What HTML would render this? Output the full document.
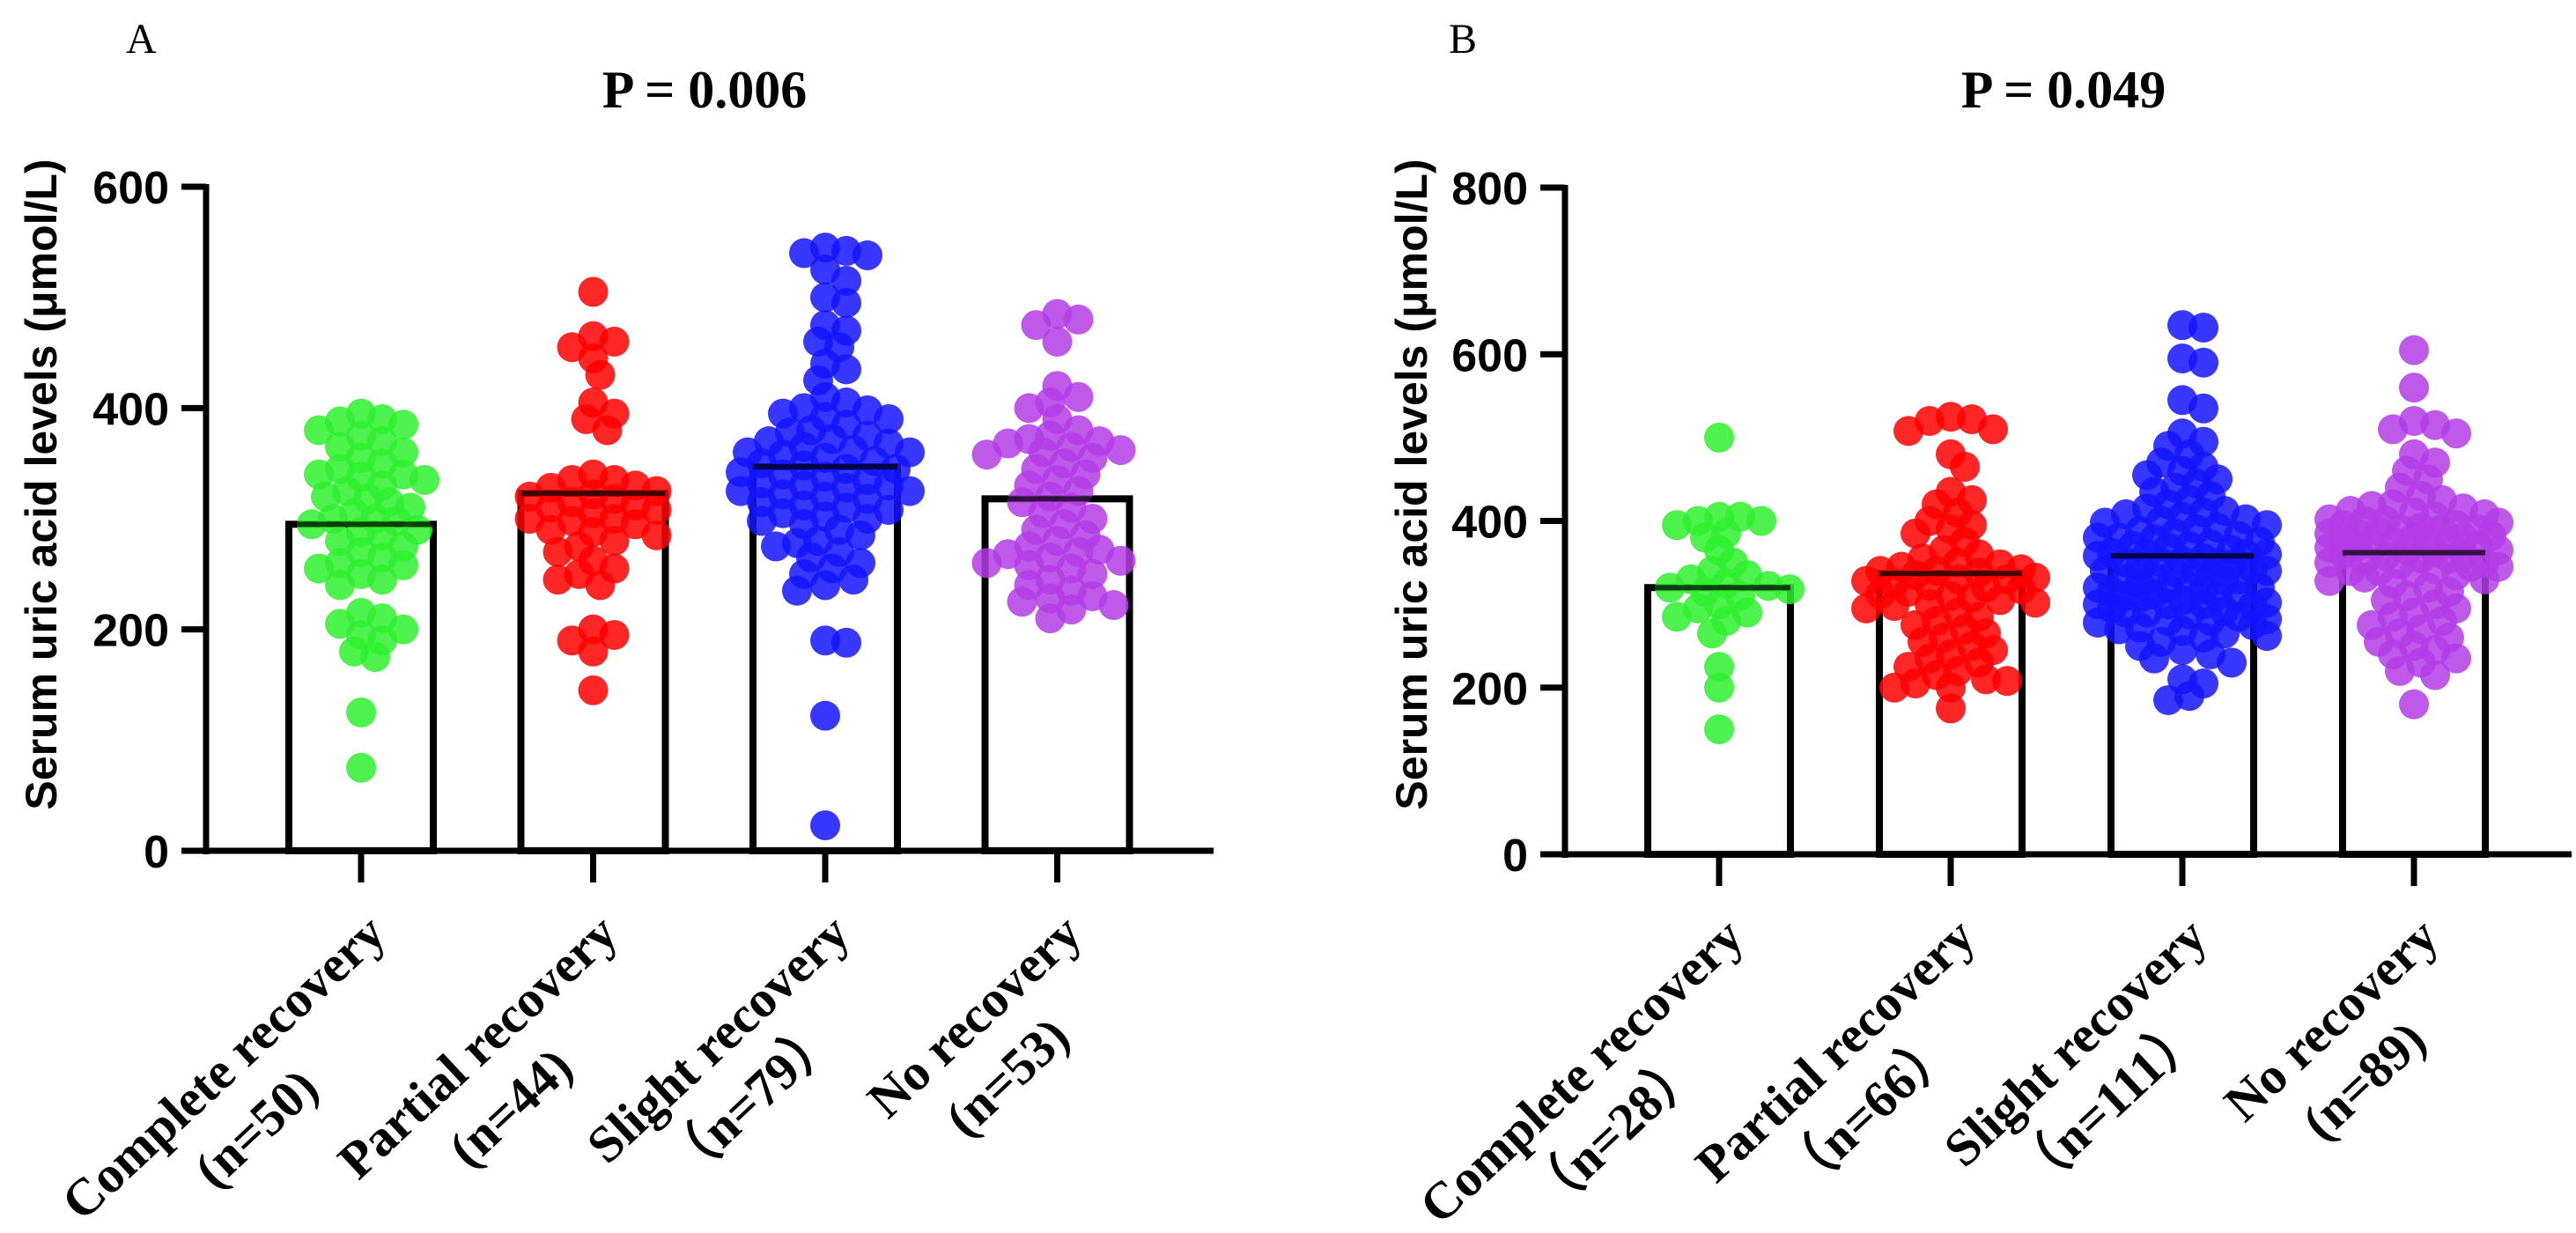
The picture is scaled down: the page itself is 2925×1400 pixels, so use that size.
<!DOCTYPE html>
<html><head><meta charset="utf-8"><style>
body{margin:0;background:#fff;overflow:hidden}svg{display:block}
.ax{font-family:"Liberation Sans",sans-serif;font-weight:bold}
.sf{font-family:"Liberation Serif",serif;font-weight:bold}
</style></head><body>
<svg id="chart" width="2925" height="1400" viewBox="0 0 2925 1400" xmlns="http://www.w3.org/2000/svg"></svg>
<script>
const categories = ["Complete recovery","Partial recovery","Slight recovery","No recovery"];
const nLabelsA = ["(n=50)","(n=44)","（n=79）","(n=53)"];
const nLabelsB = ["（n=28）","（n=66）","（n=111）","(n=89)"];
const meansA = [295,323,347,318];
const meansB = [320,337,358,362];
const ticksA = [0,200,400,600];
const ticksB = [0,200,400,600,800];
const colors = ["#2ef02e","#ff0000","#1414ff","#b43ce6"];
const groupA1 = [395,390,388,385,380,375,370,365,360,355,350,345,340,340,338,335,330,325,320,318,315,310,305,300,300,298,295,290,288,285,280,275,270,265,260,258,255,250,245,240,215,210,205,200,195,190,180,175,125,75];
const groupA2 = [505,465,460,455,445,430,405,395,390,380,340,335,335,330,328,325,322,320,318,315,312,310,308,305,300,300,298,295,290,288,285,280,275,270,262,255,250,245,240,200,195,190,180,145];
const groupA3 = [545,542,540,538,525,515,500,495,475,470,460,455,440,435,425,410,405,400,398,395,392,390,385,380,378,375,372,370,368,365,362,360,360,358,355,352,350,348,345,345,342,340,338,335,332,330,330,328,325,325,322,320,318,315,312,310,308,305,302,300,298,295,290,285,280,278,275,270,265,260,255,250,245,240,235,190,188,122,23];
const groupA4 = [485,480,475,460,420,410,405,400,390,380,375,372,370,368,365,362,360,358,355,350,345,340,335,330,325,320,315,310,305,300,295,290,285,280,275,272,270,268,265,262,260,258,255,250,245,240,235,230,228,225,222,218,210];
const groupB1 = [500,405,405,400,400,395,385,380,365,350,340,335,330,325,322,320,318,315,310,300,295,290,285,280,265,225,200,150];
const groupB2 = [525,522,520,510,508,480,465,435,425,420,410,400,395,390,385,375,365,360,355,350,348,345,342,340,340,338,335,332,330,330,328,325,322,320,318,315,312,310,308,305,302,300,298,295,290,285,280,275,270,265,260,255,250,245,240,235,230,225,220,215,210,208,205,200,200,175];
const groupB3 = [635,632,595,590,545,535,505,495,490,480,470,465,460,455,450,445,440,435,430,425,420,415,412,410,408,405,402,400,398,395,392,390,388,385,382,380,380,378,375,372,370,370,368,365,362,360,360,358,355,352,350,350,348,345,342,340,340,338,335,332,330,330,328,325,322,320,320,318,315,312,310,310,308,305,302,300,300,300,298,295,292,290,290,288,285,282,280,280,278,275,272,270,268,265,262,260,255,250,245,240,235,230,210,205,190,185,340,350,360,320,310];
const groupB4 = [605,560,520,515,510,505,480,470,460,450,440,430,425,420,418,415,412,410,408,405,402,400,400,398,395,395,392,390,390,388,385,385,382,380,380,378,375,375,372,370,370,368,365,365,362,360,360,358,355,355,352,350,350,348,345,345,342,340,340,338,335,332,330,328,325,320,315,310,305,300,295,290,285,280,275,270,265,260,255,250,245,240,235,230,220,215,180,380,390];

const NS="http://www.w3.org/2000/svg";
const svg=document.getElementById('chart');
function mk(tag,attrs,parent){const e=document.createElementNS(NS,tag);for(const k in attrs)e.setAttribute(k,attrs[k]);(parent||svg).appendChild(e);return e;}

function panel(cfg){
  const g=mk('g',{});
  
  
  const yScale=v=>cfg.y0-(v/cfg.ymax)*(cfg.y0-cfg.yTop);
  const xCenter=i=>cfg.x0+i*cfg.step;
  const L=mk('text',{x:cfg.letterX,y:60,'font-size':48,'font-family':'Liberation Serif, serif'},g);
  L.textContent=cfg.letter;
  
  
  const P=mk('text',{x:cfg.pX,y:122,'font-size':60,class:'sf','text-anchor':'middle'},g);
  P.textContent=cfg.p;
  
  
  const yt=mk('text',{x:0,y:0,'font-size':50,class:'ax','text-anchor':'middle',transform:`translate(${cfg.titleX},550) rotate(-90)`},g);
  yt.textContent='Serum uric acid levels (μmol/L)';
  
  
  cfg.means.forEach((m,i)=>{
    const cx=xCenter(i);
    const r=mk('rect',{x:cx-cfg.bw/2,y:yScale(m),width:cfg.bw,height:cfg.y0-yScale(m),fill:'#fff',stroke:'#000','stroke-width':8},g);
    
    
  });
  const rad=17, s=8, maxOff=cfg.bw*0.62;
  cfg.groups.forEach((vals,i)=>{
    const cx=xCenter(i);
    const placed=[];
    const sorted=vals.slice().sort((a,b)=>b-a);
    sorted.forEach(v=>{
      const y=yScale(v);
      let best=0,bestD=-1;
      for(let k=0;k<60;k++){
        const cand=k===0?0:(k%2?1:-1)*Math.ceil(k/2)*s;
        if(Math.abs(cand)>maxOff)break;
        const d=placed.length?Math.min(...placed.map(p=>Math.hypot(p[0]-cand,p[1]-y))):1e9;
        if(d>=rad*1.2){best=cand;break;}
        if(d>bestD){bestD=d;best=cand;}
      }
      placed.push([best,y]);
      const c=mk('circle',{cx:cx+best,cy:y,r:rad,fill:colors[i],'fill-opacity':0.85},g);
      
      
    });
  });
  cfg.means.forEach((m,i)=>{
    const cx=xCenter(i);
    mk('line',{x1:cx-cfg.bw/2,x2:cx+cfg.bw/2,y1:yScale(m),y2:yScale(m),stroke:'#000','stroke-width':6,'stroke-opacity':0.7},g);
  });
  const ya=mk('line',{x1:cfg.ax,x2:cfg.ax,y1:cfg.yTop-3,y2:cfg.y0+4,stroke:'#000','stroke-width':7},g);
  
  const xa=mk('line',{x1:cfg.ax-28,x2:cfg.xEnd,y1:cfg.y0,y2:cfg.y0,stroke:'#000','stroke-width':7},g);
  
  cfg.ticks.forEach(t=>{
    const y=yScale(t);
    mk('line',{x1:cfg.ax-28,x2:cfg.ax,y1:y,y2:y,stroke:'#000','stroke-width':7},g);
    const tl=mk('text',{x:cfg.ax-42,y:y+19,'font-size':52,class:'ax','text-anchor':'end'},g);
    tl.textContent=t;
    
    
  });
  categories.forEach((c,i)=>{
    const cx=xCenter(i);
    mk('line',{x1:cx,x2:cx,y1:cfg.y0,y2:cfg.y0+36,stroke:'#000','stroke-width':7},g);
    const tg=mk('g',{transform:`translate(${cx+31},${cfg.y0+98}) rotate(-43)`},g);
    
    
    const t1=mk('text',{x:0,y:0,'font-size':59,class:'sf','text-anchor':'end'},tg);
    t1.textContent=c;
    const w=t1.getComputedTextLength();
    const t2=mk('text',{x:-w/2-20,y:76,'font-size':59,class:'sf','text-anchor':'middle'},tg);
    t2.textContent=cfg.nl[i];
  });
}
panel({letter:'A',letterX:143,p:'P = 0.006',pX:800,titleX:64,ax:234,y0:966,yTop:212,ymax:600,ticks:ticksA,x0:410,step:263.5,bw:164,xEnd:1378,means:meansA,groups:[groupA1,groupA2,groupA3,groupA4],nl:nLabelsA});
panel({letter:'B',letterX:1645,p:'P = 0.049',pX:2343,titleX:1620,ax:1777,y0:970,yTop:213,ymax:800,ticks:ticksB,x0:1952,step:263,bw:162,xEnd:2920,means:meansB,groups:[groupB1,groupB2,groupB3,groupB4],nl:nLabelsB});
</script>
</body></html>
